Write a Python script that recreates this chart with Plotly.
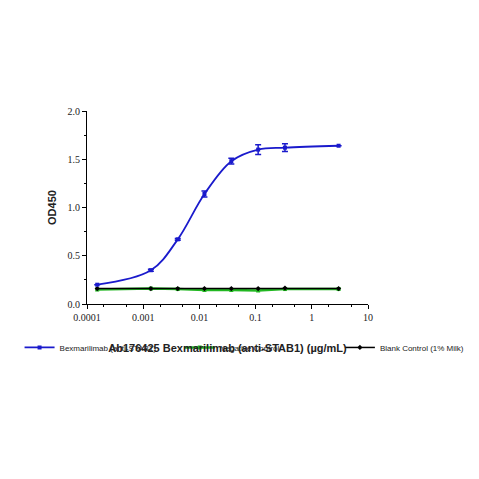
import plotly.graph_objects as go

conc = [0.000152, 0.00137, 0.00412, 0.0123, 0.037, 0.111, 0.333, 3.0]
bex = [0.20, 0.35, 0.67, 1.14, 1.48, 1.60, 1.62, 1.64]
bex_err = [0.0, 0.01, 0.01, 0.03, 0.03, 0.05, 0.04, 0.0]
neg = [0.15, 0.16, 0.155, 0.145, 0.145, 0.14, 0.155, 0.155]
blank = [0.16, 0.16, 0.16, 0.16, 0.16, 0.16, 0.165, 0.16]

fig = go.Figure()
fig.add_trace(go.Scatter(
    x=conc, y=neg, name='Negative Control', mode='lines+markers', legend='legend2',
    line=dict(color='#22b822', width=2.5),
    marker=dict(symbol='square', size=4, color='#22b822'),
))
fig.add_trace(go.Scatter(
    x=conc, y=blank, name='Blank Control (1% Milk)', mode='lines+markers', legend='legend3',
    line=dict(color='black', width=1.5),
    marker=dict(symbol='diamond', size=4, color='black'),
))
fig.add_trace(go.Scatter(
    x=conc, y=bex, name='Bexmarilimab (anti-STAB1)', mode='lines+markers', legend='legend',
    line=dict(color='#1a1acc', width=1.8, shape='spline', smoothing=1.0),
    marker=dict(symbol='square', size=4, color='#1a1acc'),
    error_y=dict(type='data', array=bex_err, color='#1a1acc', thickness=1.5, width=3),
))

leg_font = dict(family='Arial', size=8, color='#222')
leg_y = -0.15
fig.update_layout(
    width=479, height=479,
    margin=dict(l=69, r=119, t=103, b=183),
    plot_bgcolor='white', paper_bgcolor='white',
    showlegend=True,
    legend=dict(x=-0.24, y=leg_y, xanchor='left', yanchor='top', font=leg_font, itemwidth=30),
    legend2=dict(x=0.33, y=leg_y, xanchor='left', yanchor='top', font=leg_font, itemwidth=30),
    legend3=dict(x=0.90, y=leg_y, xanchor='left', yanchor='top', font=leg_font, itemwidth=30),
    xaxis=dict(type='log', range=[-4, 1], showline=True, linecolor='black', linewidth=1,
               ticks='outside', tickcolor='black', ticklen=4, showgrid=False, zeroline=False,
               tickvals=[0.0001, 0.001, 0.01, 0.1, 1, 10],
               ticktext=['0.0001', '0.001', '0.01', '0.1', '1', '10'],
               minor=dict(ticks='outside', ticklen=2, tickcolor='black'),
               tickfont=dict(family='Liberation Serif', size=10, color='#222'),
               title=dict(text='<b>Ab176425 Bexmarilimab (anti-STAB1) (µg/mL)</b>',
                          font=dict(family='Arial', size=11, color='#222'), standoff=22)),
    yaxis=dict(range=[0, 2.0], showline=True, linecolor='black', linewidth=1,
               ticks='outside', tickcolor='black', ticklen=4, showgrid=False, zeroline=False,
               tickvals=[0, 0.5, 1.0, 1.5, 2.0], ticktext=['0.0', '0.5', '1.0', '1.5', '2.0'],
               minor=dict(ticks='outside', ticklen=2, tickcolor='black', dtick=0.25),
               tickfont=dict(family='Liberation Serif', size=10, color='#222'),
               title=dict(text='<b>OD450</b>', font=dict(family='Arial', size=11, color='#222'),
                          standoff=8)),
)

fig.write_html('out.html')
